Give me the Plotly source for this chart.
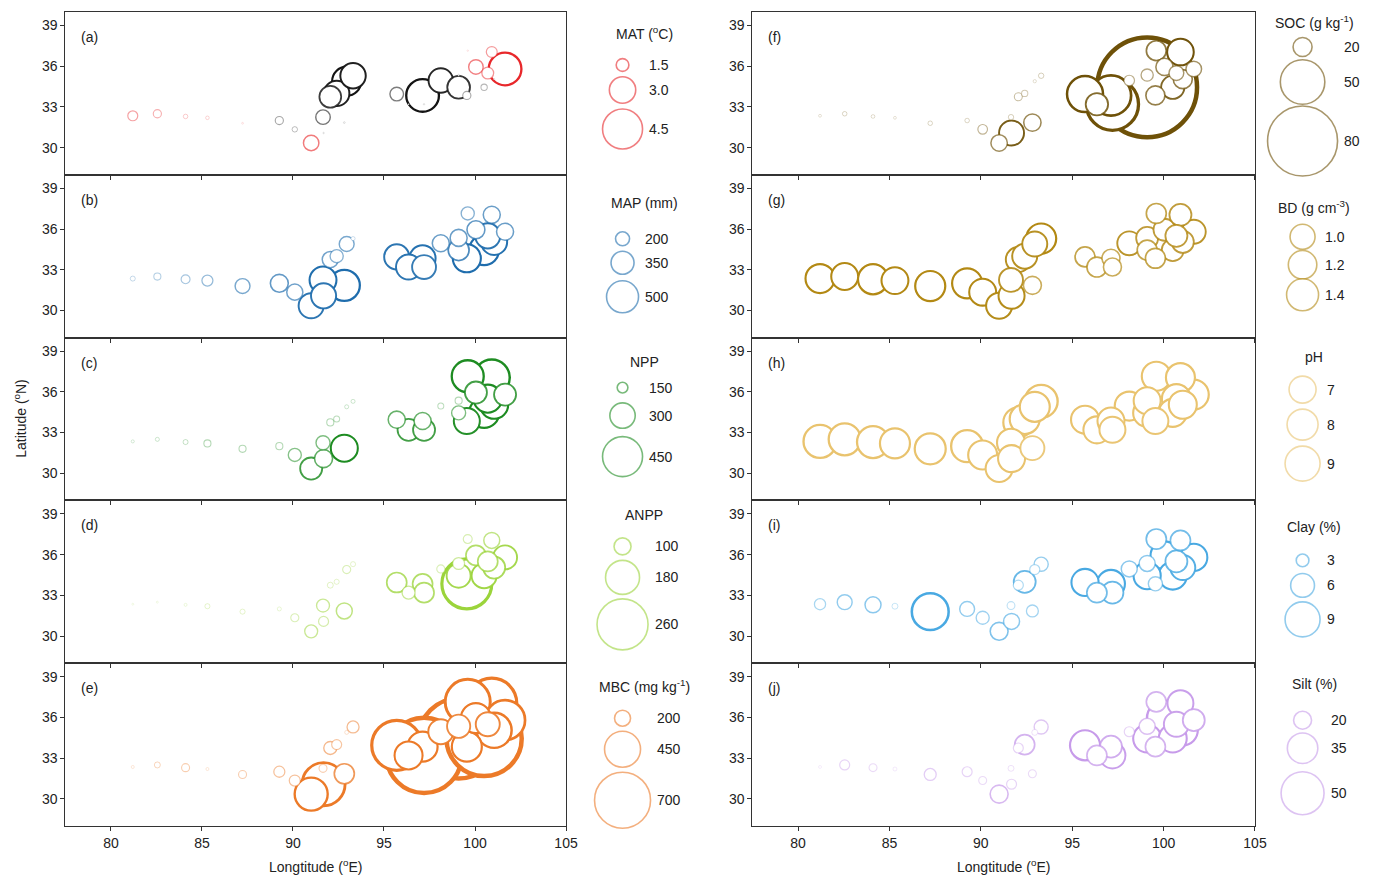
import plotly.graph_objects as go

# ---- sampling sites (longitude, latitude) ----
lon = [81.2, 82.55, 84.1, 85.3, 87.23, 89.25, 90.1, 91.0, 91.65, 91.68,
       92.05, 92.4, 92.82, 92.95, 93.3, 95.7, 96.35, 97.12, 97.2, 98.12,
       99.1, 99.1, 99.55, 99.6, 100.05, 100.5, 100.92, 101.05, 101.65, 100.7]
lat = [32.35, 32.5, 32.3, 32.2, 31.8, 32.0, 31.35, 30.35, 32.25, 31.08,
       33.75, 34.0, 31.85, 34.9, 35.3, 33.95, 33.2, 33.85, 33.2, 34.95,
       35.35, 34.45, 33.85, 37.15, 35.95, 34.45, 37.05, 35.05, 35.8, 35.5]

# ---- site variables ----
mat = [1.2, 1.0, 0.6, 0.5, 0.3, -1.0, -0.7, 1.8, -1.7, -0.1,
       -2.5, -2.9, -0.3, -3.3, -2.9, -1.6, -0.2, -3.7, -0.2, -2.8,
       -0.3, -2.6, -1.0, 0.1, 1.7, -0.8, 1.3, -0.2, 3.7, 1.4]
map_mm = [50, 85, 115, 150, 215, 265, 235, 385, 415, 385,
          235, 185, 485, 215, 35, 385, 385, 400, 365, 250,
          250, 315, 435, 185, 265, 465, 250, 400, 250, 385]
npp = [72, 82, 92, 113, 113, 113, 174, 266, 184, 225,
       113, 102, 317, 82, 82, 215, 266, 215, 266, 102,
       113, 184, 307, 368, 266, 348, 409, 328, 266, 328]
anpp = [29, 29, 34, 44, 44, 39, 58, 81, 81, 67,
        48, 44, 95, 58, 44, 114, 81, 114, 114, 58,
        76, 133, 255, 62, 114, 138, 95, 124, 133, 114]
mbc = [38, 75, 100, 38, 100, 138, 138, 413, 100, 538,
       163, 125, 250, 50, 150, 625, 350, 375, 940, 313,
       290, 1000, 375, 563, 375, 940, 625, 438, 500, 300]
soc = [1, 3, 2, 1, 3, 3, 9, 17, 4, 27,
       7, 5, 18, 1.5, 4, 40, 24, 45, 59, 10,
       12, 115, 20, 21, 18, 25, 29, 20, 16, 15]
bd = [1.23, 1.11, 1.29, 1.11, 1.29, 1.29, 1.11, 1.06, 0.94, 1.06,
      1.0, 1.0, 0.6, 1.0, 1.29, 0.71, 0.71, 0.6, 0.6, 0.94,
      0.83, 0.71, 0.71, 0.71, 0.83, 0.83, 0.83, 0.83, 0.94, 0.83]
ph = [8.5, 8.25, 8.25, 7.75, 8.0, 8.25, 7.5, 7.0, 7.25, 7.0,
      7.75, 7.75, 6.25, 7.75, 8.5, 7.25, 7.0, 7.0, 6.75, 7.5,
      7.0, 7.25, 6.75, 7.5, 8.25, 7.25, 7.5, 7.25, 7.75, 7.5]
clay = [2.6, 3.6, 3.9, 1.2, 9.5, 3.6, 3.1, 4.4, 1.7, 3.9,
        2.3, 5.5, 2.8, 2.3, 3.4, 6.9, 5.0, 7.1, 5.5, 3.9,
        3.9, 6.9, 3.4, 5.0, 7.1, 7.1, 5.0, 6.3, 6.9, 5.5]
silt = [2, 10.4, 8, 3.2, 12.8, 10.4, 8, 20, 5.6, 10.4,
        10.4, 22.4, 8, 5.6, 15.2, 34.5, 22.4, 24.8, 29.6, 10.4,
        17.6, 32, 22.4, 22.4, 40.5, 32, 29.6, 34.5, 24.8, 28.5]

# ---- legend break values ----
mat_breaks = [1.5, 3.0, 4.5]
map_breaks = [200, 350, 500]
npp_breaks = [150, 300, 450]
anpp_breaks = [100, 180, 260]
mbc_breaks = [200, 450, 700]
soc_breaks = [20, 50, 80]
bd_breaks = [1.0, 1.2, 1.4]
ph_breaks = [7, 8, 9]
clay_breaks = [3, 6, 9]
silt_breaks = [20, 35, 50]

# ---- page geometry (pixels) ----
W, H = 1380, 877
M_TOP, M_BOT = 12, 51
PLOT_H = H - M_TOP - M_BOT
ROW_H = PLOT_H / 5
COLS = [(66, 571), (759, 1266)]
FONT = "Liberation Sans, Arial, sans-serif"
INK = "#222222"

# size scale: diameter(px) = s0 + s1 * |value|; legend layout offsets from panel top
panels = [
    dict(tag="(a)", v=mat, brk=mat_breaks, fmt="{:.1f}", title="MAT (<sup>o</sup>C)",
         col="#E8282B", neg="#141414", s=(-0.95, 9.1), lt=21, li=[53, 78, 117]),
    dict(tag="(b)", v=map_mm, brk=map_breaks, fmt="{:.0f}", title="MAP (mm)",
         col="#1F6DAD", s=(2.0, 0.06), lt=28, li=[64, 88, 122]),
    dict(tag="(c)", v=npp, brk=npp_breaks, fmt="{:.0f}", title="NPP",
         col="#1E8C22", s=(-3.95, 0.0977), lt=24, li=[50, 78, 119]),
    dict(tag="(d)", v=anpp, brk=anpp_breaks, fmt="{:.0f}", title="ANPP",
         col="#9BD43B", s=(-4.25, 0.2125), lt=15, li=[46, 77, 124]),
    dict(tag="(e)", v=mbc, brk=mbc_breaks, fmt="{:.0f}", title="MBC (mg kg<sup>-1</sup>)",
         col="#EC7A28", s=(0.0, 0.08), lt=23, li=[55, 86, 137]),
    dict(tag="(f)", v=soc, brk=soc_breaks, fmt="{:.0f}", title="SOC (g kg<sup>-1</sup>)",
         col="#6E5108", s=(2.0, 0.85), lt=10, li=[35, 70, 129]),
    dict(tag="(g)", v=bd, brk=bd_breaks, fmt="{:.1f}", title="BD (g cm<sup>-3</sup>)",
         col="#B38914", s=(7.5, 17.5), lt=32, li=[62, 90, 120]),
    dict(tag="(h)", v=ph, brk=ph_breaks, fmt="{:.0f}", title="pH",
         col="#E9C36E", s=(-1.0, 4.0), lt=19, li=[52, 87, 126]),
    dict(tag="(i)", v=clay, brk=clay_breaks, fmt="{:.0f}", title="Clay (%)",
         col="#49A9E2", s=(1.5, 3.72), lt=27, li=[60, 85, 119]),
    dict(tag="(j)", v=silt, brk=silt_breaks, fmt="{:.0f}", title="Silt (%)",
         col="#C79BEA", s=(1.3, 0.833), lt=21, li=[57, 85, 130]),
]


def diameter(p, value):
    return max(1.5, p["s"][0] + p["s"][1] * abs(value))


def rgba(hex_col, alpha):
    h = hex_col.lstrip("#")
    r, g, b = int(h[0:2], 16), int(h[2:4], 16), int(h[4:6], 16)
    return f"rgba({r},{g},{b},{alpha:.3f})"


def stroke(p, value, d):
    alpha = min(1.0, max(0.15, 0.1 + d / 30.0))
    base = p.get("neg", p["col"]) if value < 0 else p["col"]
    return rgba(base, alpha), min(4.5, 0.7 + d / 20.0)


fig = go.Figure()
layout = dict(
    width=W, height=H,
    margin=dict(l=0, r=0, t=M_TOP, b=M_BOT, pad=0),
    paper_bgcolor="white", plot_bgcolor="rgba(0,0,0,0)",
    showlegend=False,
    font=dict(family=FONT, size=14, color=INK),
)
annotations = []

for i, p in enumerate(panels):
    n = i + 1
    col, row = divmod(i, 5)
    x0, x1 = COLS[col]
    top_px = M_TOP + row * ROW_H
    bot_px = top_px + ROW_H
    xd = [x0 / W, x1 / W]
    yd = [(H - M_BOT - bot_px) / PLOT_H, (H - M_BOT - top_px) / PLOT_H]
    sfx = str(n) if n > 1 else ""
    xa, ya = "xaxis" + sfx, "yaxis" + sfx
    xr, yr = "x" + sfx, "y" + sfx
    axis_common = dict(showline=True, mirror=True, linecolor="#333333", linewidth=1,
                       ticks="outside", ticklen=4, tickcolor="#333333", tickwidth=1,
                       showgrid=False, zeroline=False, fixedrange=True,
                       tickfont=dict(family=FONT, size=14, color=INK))
    layout[xa] = dict(domain=xd, anchor=yr, range=[77.5, 105], autorange=False,
                      tickvals=[80, 85, 90, 95, 100, 105],
                      showticklabels=(row == 4), **axis_common)
    layout[ya] = dict(domain=[max(0.0, yd[0]), min(1.0, yd[1])], anchor=xr, range=[28, 40],
                      autorange=False, tickvals=[30, 33, 36, 39], **axis_common)

    # sites, largest first so smaller circles stay visible on top
    d_all = [diameter(p, v) for v in p["v"]]
    order = sorted(range(len(lon)), key=lambda k: -d_all[k])
    colors, widths = [], []
    for k in order:
        c, w = stroke(p, p["v"][k], d_all[k])
        colors.append(c)
        widths.append(w)
    fig.add_trace(go.Scatter(
        x=[lon[k] for k in order], y=[lat[k] for k in order],
        mode="markers", xaxis=xr, yaxis=yr, cliponaxis=True,
        marker=dict(symbol="circle", size=[d_all[k] for k in order], color="white",
                    opacity=1, line=dict(color=colors, width=widths)),
        hovertemplate="%{x}, %{y}<extra></extra>",
    ))

    # panel tag
    annotations.append(dict(text=p["tag"], xref=f"{xr} domain", yref=f"{yr} domain",
                            x=14 / (x1 - x0), y=1 - 25 / ROW_H, xanchor="left",
                            yanchor="middle", showarrow=False,
                            font=dict(family=FONT, size=14, color=INK)))

    # size legend (drawn on a page-pixel overlay axis), uniform key strokes
    cx = 628 if col == 0 else 1314
    tx = 650 if col == 0 else 1326
    leg_d = [diameter(p, v) for v in p["brk"]]
    lx = cx + max(leg_d) / 2 + 5
    annotations.append(dict(text=p["title"], xref="x11", yref="y11", x=tx,
                            y=top_px + p["lt"], xanchor="center", yanchor="middle",
                            showarrow=False, font=dict(family=FONT, size=14, color=INK)))
    fig.add_trace(go.Scatter(
        x=[cx] * len(leg_d), y=[top_px + o for o in p["li"]],
        mode="markers", xaxis="x11", yaxis="y11", cliponaxis=False, hoverinfo="skip",
        marker=dict(symbol="circle", size=leg_d, color="white",
                    line=dict(color=rgba(p["col"], 0.85), width=1.6)),
    ))
    for v, o in zip(p["brk"], p["li"]):
        annotations.append(dict(text=p["fmt"].format(v), xref="x11", yref="y11",
                                x=lx, y=top_px + o, xanchor="left", yanchor="middle",
                                showarrow=False,
                                font=dict(family=FONT, size=14, color=INK)))

# overlay axis in page pixel units for legend keys
layout["xaxis11"] = dict(domain=[0, 1], range=[0, W], autorange=False, visible=False,
                         anchor="y11", fixedrange=True, showgrid=False, zeroline=False)
layout["yaxis11"] = dict(domain=[0, 1], range=[H - M_BOT, M_TOP], autorange=False,
                         visible=False, anchor="x11", fixedrange=True, showgrid=False,
                         zeroline=False)

# axis titles
for col in range(2):
    x0, x1 = COLS[col]
    annotations.append(dict(text="Longtitude (<sup>o</sup>E)", xref="paper", yref="paper",
                            x=(x0 + x1) / 2 / W, y=-(866 - (H - M_BOT)) / PLOT_H,
                            xanchor="center", yanchor="middle", showarrow=False,
                            font=dict(family=FONT, size=14, color=INK)))
annotations.append(dict(text="Latitude (<sup>o</sup>N)", xref="paper", yref="paper",
                        x=20 / W, y=(H - M_BOT - 418) / PLOT_H, textangle=-90,
                        xanchor="center", yanchor="middle", showarrow=False,
                        font=dict(family=FONT, size=14, color=INK)))

layout["annotations"] = annotations
fig.update_layout(**layout)
fig.write_html("out.html")
